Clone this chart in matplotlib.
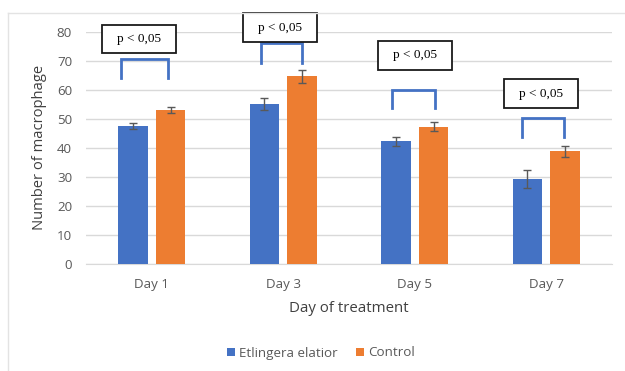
import matplotlib
matplotlib.use("Agg")
import matplotlib.pyplot as plt
from matplotlib.patches import Rectangle
from matplotlib.lines import Line2D
import numpy as np

categories = ["Day 1", "Day 3", "Day 5", "Day 7"]
etlingera = [47.5, 55.1, 42.2, 29.2]
etlingera_err = [1.1, 2.0, 1.5, 3.0]
control = [53.0, 64.7, 47.3, 38.9]
control_err = [1.1, 2.2, 1.5, 1.9]
series_names = ["Etlingera elatior", "Control"]
p_label = "p < 0,05"

# annotation layout (data coords): bracket left x, right x, top y, bottom y
bracket_x0 = [-0.234, 0.831, 1.829, 2.818]
bracket_x1 = [0.124, 1.143, 2.156, 3.135]
bracket_top = [70.5, 76.0, 59.8, 50.4]
bracket_bot = [63.9, 69.3, 53.8, 43.8]
# box: left x, right x, bottom y, top y
box_x0 = [-0.378, 0.694, 1.718, 2.681]
box_x1 = [0.184, 1.257, 2.281, 3.244]
box_y0 = [72.8, 76.3, 66.9, 53.6]
box_y1 = [82.3, 86.3, 76.9, 63.6]

W, H = 625, 371
fig = plt.figure(figsize=(W / 100, H / 100), dpi=100)
font = "Open Sans"
plt.rcParams["font.family"] = [font, "DejaVu Sans"]

ax = fig.add_axes([86 / W, 1 - 264 / H, (612 - 86) / W, (264 - 31.7) / H])
x = np.arange(len(categories))
bw = 0.222
off = 0.143
blue = "#4472C4"
orange = "#ED7D31"
ecol = "#595959"
ax.bar(x - off, etlingera, bw, color=blue, yerr=etlingera_err,
       error_kw=dict(ecolor=ecol, elinewidth=1, capsize=2.6, capthick=1), zorder=3,
       label=series_names[0])
ax.bar(x + off, control, bw, color=orange, yerr=control_err,
       error_kw=dict(ecolor=ecol, elinewidth=1, capsize=2.6, capthick=1), zorder=3,
       label=series_names[1])

ax.set_xlim(-0.5, 3.5)
ax.set_ylim(0, 80)
ax.set_yticks(range(0, 81, 10))
ax.set_xticks(x)
ax.set_xticklabels(categories)
ax.grid(axis="y", color="#D9D9D9", linewidth=1, zorder=0)
for s in ["top", "right", "left"]:
    ax.spines[s].set_visible(False)
ax.spines["bottom"].set_color("#D9D9D9")
ax.tick_params(axis="both", length=0, colors="#595959", labelsize=9.6)
ax.tick_params(axis="x", pad=10)
ax.tick_params(axis="y", pad=10)
ax.set_ylabel("Number of macrophage", fontsize=10.6, color="#404040", labelpad=7)
ax.set_xlabel("Day of treatment", fontsize=10.8, color="#404040", labelpad=7)

for i in range(len(categories)):
    ax.plot([bracket_x0[i], bracket_x0[i], bracket_x1[i], bracket_x1[i]],
            [bracket_bot[i], bracket_top[i], bracket_top[i], bracket_bot[i]],
            color=blue, linewidth=2, clip_on=False, zorder=4, solid_joinstyle="miter")
    ax.add_patch(Rectangle((box_x0[i], box_y0[i]), box_x1[i] - box_x0[i],
                           box_y1[i] - box_y0[i], facecolor="white",
                           edgecolor="#1a1a1a", linewidth=1.3, clip_on=False, zorder=5))
    ax.text((box_x0[i] + box_x1[i]) / 2, (box_y0[i] + box_y1[i]) / 2, p_label,
            ha="center", va="center", fontsize=9.5, family="Liberation Serif",
            color="black", zorder=6, clip_on=False)

leg = fig.legend(loc="center", bbox_to_anchor=(321 / W, 1 - 353 / H), ncol=2,
                 frameon=False, fontsize=9.6, handlelength=0.6, handleheight=0.6,
                 handletextpad=0.3, columnspacing=1.4)
for t in leg.get_texts():
    t.set_color("#595959")

# chart border (light)
fig.add_artist(Line2D([7.5 / W, 7.5 / W], [0, 1 - 12.5 / H], color="#E3E3E3", linewidth=1))
fig.add_artist(Line2D([7.5 / W, 1], [1 - 12.5 / H, 1 - 12.5 / H], color="#E3E3E3", linewidth=1))

fig.savefig("out.png", dpi=100, facecolor="white")
